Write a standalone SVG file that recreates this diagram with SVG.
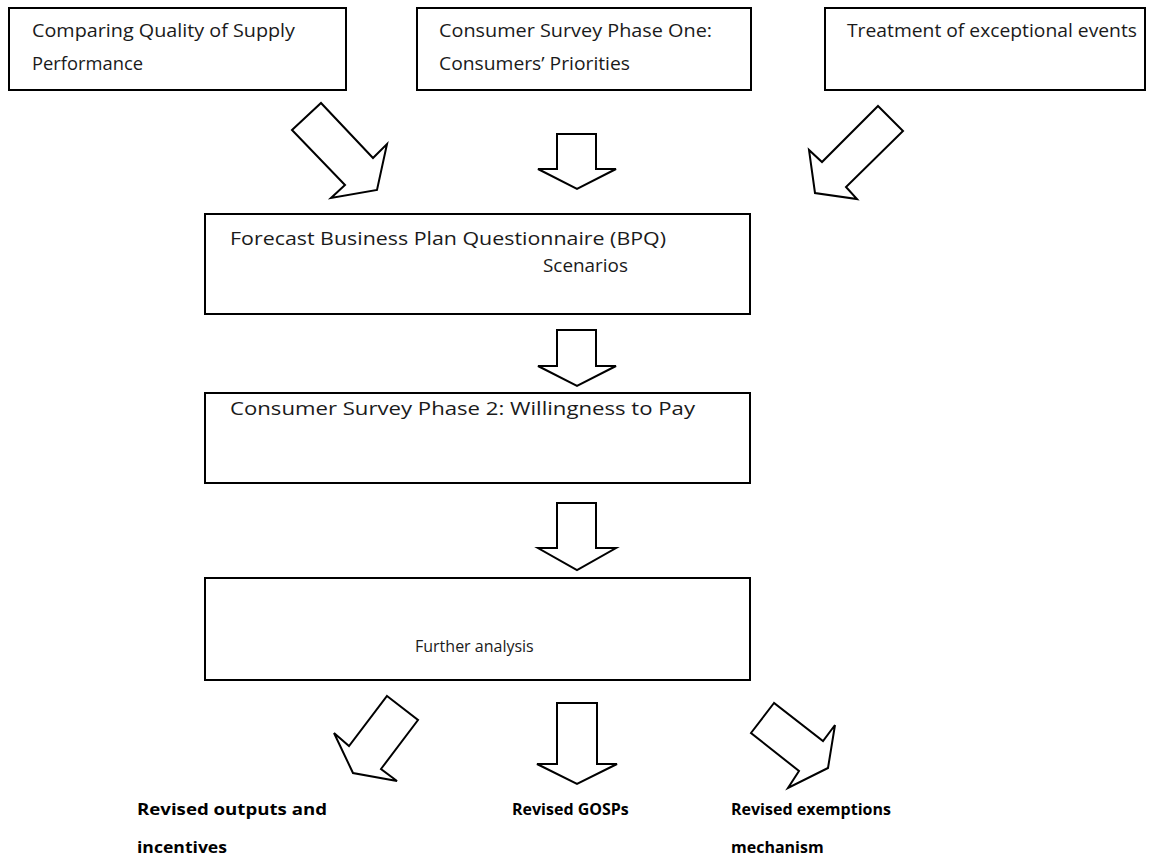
<svg xmlns="http://www.w3.org/2000/svg" width="1151" height="856" viewBox="0 0 1151 856">
<style>
.box{fill:#fff;stroke:#000;stroke-width:2}
.arr{fill:#fff;stroke:#000;stroke-width:2;stroke-linejoin:miter}
text{font-family:"Open Sans","Noto Sans",sans-serif;font-size:18px;fill:#1a1a1a}
.b{font-weight:bold;font-size:16px;fill:#000}
</style>
<rect width="1151" height="856" fill="#fff"/>
<g id="node-comparing">
<rect class="box" x="9" y="8" width="337" height="82"/>
<text x="32" y="37" textLength="263" lengthAdjust="spacingAndGlyphs">Comparing Quality of Supply</text>
<text x="32" y="70" textLength="111" lengthAdjust="spacingAndGlyphs">Performance</text>
</g>
<g id="node-survey1">
<rect class="box" x="417" y="8" width="334" height="82"/>
<text x="439" y="37" textLength="273" lengthAdjust="spacingAndGlyphs">Consumer Survey Phase One:</text>
<text x="439" y="70" textLength="191" lengthAdjust="spacingAndGlyphs">Consumers’ Priorities</text>
</g>
<g id="node-exceptional">
<rect class="box" x="825" y="8" width="320" height="82"/>
<text x="847" y="37" textLength="290" lengthAdjust="spacingAndGlyphs">Treatment of exceptional events</text>
</g>
<g id="node-bpq">
<rect class="box" x="205" y="214" width="545" height="100"/>
<text x="230" y="245" textLength="436" lengthAdjust="spacingAndGlyphs">Forecast Business Plan Questionnaire (BPQ)</text>
<text x="543" y="272" textLength="85" lengthAdjust="spacingAndGlyphs">Scenarios</text>
</g>
<g id="node-survey2">
<rect class="box" x="205" y="393" width="545" height="90"/>
<text x="230" y="415" textLength="465" lengthAdjust="spacingAndGlyphs">Consumer Survey Phase 2: Willingness to Pay</text>
</g>
<g id="node-further">
<rect class="box" x="205" y="578" width="545" height="102"/>
<text x="415" y="652" style="font-size:16px">Further analysis</text>
</g>
<g id="node-outputs">
<text class="b" x="137" y="815" textLength="190" lengthAdjust="spacingAndGlyphs">Revised outputs and</text>
<text class="b" x="137" y="853" textLength="90" lengthAdjust="spacingAndGlyphs">incentives</text>
</g>
<g id="node-gosps">
<text class="b" x="512" y="815">Revised GOSPs</text>
</g>
<g id="node-exemptions">
<text class="b" x="731" y="815">Revised exemptions</text>
<text class="b" x="731" y="853">mechanism</text>
</g>
<g id="connectors">
<polygon class="arr" points="292,130 321,103 373,158 387,144 377,190 331,198 345,185"/>
<polygon class="arr" points="557,134 596,134 596,169 616,169 577,189 538,169 557,169"/>
<polygon class="arr" points="878,106 903,131 846,187 857,199 815,193 809,150 822,162"/>
<polygon class="arr" points="557,330 596,330 596,366 616,366 577,386 538,366 557,366"/>
<polygon class="arr" points="557,503 596,503 596,548 616,548 577,570 538,548 557,548"/>
<polygon class="arr" points="387,696 418,720 381,769 397,781 353,773 334,733 349,746"/>
<polygon class="arr" points="557,703 597,703 597,764 617,764 577,784 537,764 557,764"/>
<polygon class="arr" points="774,703 751,733 799,771 788,788 828,768 835,725 823,741"/>
</g>
</svg>
